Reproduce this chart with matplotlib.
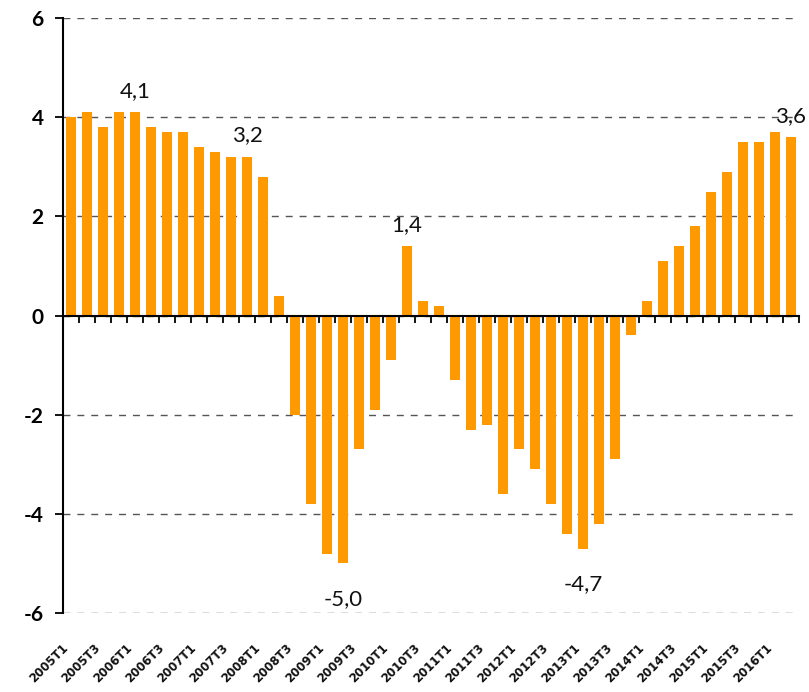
import numpy as np
import matplotlib.pyplot as plt
from matplotlib.transforms import offset_copy

# variacion trimestral, 2005T1 .. 2016T2
valores = [4.0, 4.1, 3.8, 4.1, 4.1, 3.8, 3.7, 3.7, 3.4, 3.3, 3.2, 3.2, 2.8, 0.4,
           -2.0, -3.8, -4.8, -5.0, -2.7, -1.9, -0.9, 1.4, 0.3, 0.2,
           -1.3, -2.3, -2.2, -3.6, -2.7, -3.1, -3.8, -4.4, -4.7, -4.2, -2.9, -0.4,
           0.3, 1.1, 1.4, 1.8, 2.5, 2.9, 3.5, 3.5, 3.7, 3.6]

etiquetas = ["2005T1", "2005T3", "2006T1", "2006T3", "2007T1", "2007T3",
             "2008T1", "2008T3", "2009T1", "2009T3", "2010T1", "2010T3",
             "2011T1", "2011T3", "2012T1", "2012T3", "2013T1", "2013T3",
             "2014T1", "2014T3", "2015T1", "2015T3", "2016T1"]

# barras con el valor escrito
destacados = [4, 11, 17, 21, 32, 45]

naranja = "#FF9900"

def dibujar():
    fig = plt.figure(figsize=(8.09, 6.92), dpi=100)
    ax = fig.add_axes([63 / 809, 1 - 613 / 692, 736 / 809, 595 / 692])

    x = np.arange(len(valores))
    ax.bar(x, valores, width=0.68, color=naranja, zorder=2)

    ax.set_xlim(-0.5, len(valores) - 0.5)
    ax.set_ylim(-6, 6)
    ax.set_yticks([-6, -4, -2, 0, 2, 4, 6])
    ax.set_yticklabels(["-6", "-4", "-2", "0", "2", "4", "6"],
                       fontsize=15, fontweight="bold", family="Lato")
    ax.yaxis.grid(True, linestyle=(0, (5, 5)), color="#555555", linewidth=1, zorder=0)

    ax.spines["top"].set_visible(False)
    ax.spines["right"].set_visible(False)
    ax.spines["bottom"].set_position(("data", 0))
    ax.spines["bottom"].set_zorder(3)
    ax.spines["left"].set_linewidth(1.5)
    ax.spines["bottom"].set_linewidth(1.5)

    ax.set_xticks(np.arange(-0.5, len(valores), 1))
    ax.set_xticklabels([])
    ax.tick_params(axis="x", direction="out", length=5, width=1.3)
    ax.tick_params(axis="y", direction="out", length=6, width=1.3, pad=8)

    trans = ax.get_xaxis_transform()
    for i, txt in enumerate(etiquetas):
        ax.text(2 * i, -0.047, txt, transform=trans, rotation=45,
                ha="right", va="top", fontsize=8.5, fontweight="bold",
                family="DejaVu Sans", color="#111111")

    for i in destacados:
        v = valores[i]
        txt = ("%.1f" % v).replace(".", ",")
        if v >= 0:
            t = offset_copy(ax.transData, fig=fig, x=0, y=11, units="points")
        else:
            t = offset_copy(ax.transData, fig=fig, x=0, y=-30, units="points")
        ax.text(i, v, txt, transform=t, ha="center", va="baseline",
                fontsize=16, family="Lato", color="#111111")

    fig.savefig("out.png", dpi=100)

if __name__ == "__main__":
    dibujar()
